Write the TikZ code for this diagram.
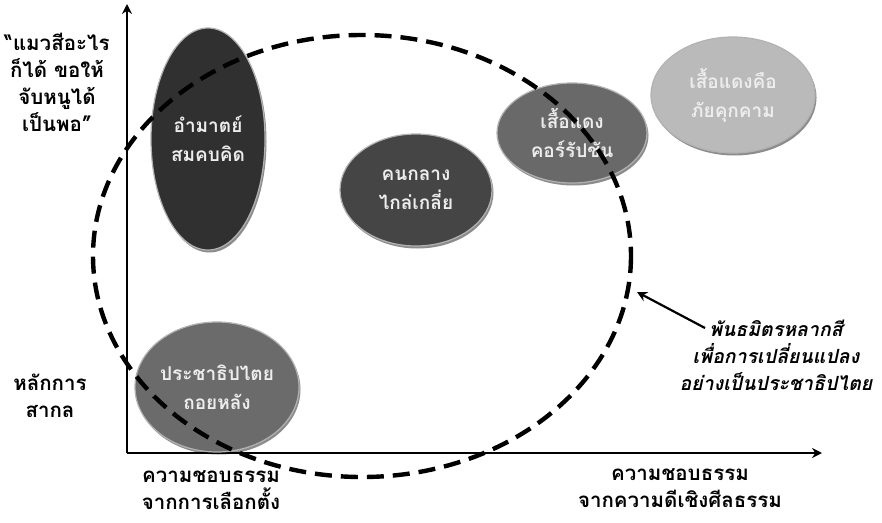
\documentclass[tikz,border=0pt]{standalone}
\usepackage{fontspec}
\newfontfamily\thai[Script=Thai]{Loma}
\usetikzlibrary{shapes.geometric,shadows,arrows.meta}
\begin{document}
\begin{tikzpicture}[x=1pt,y=-1pt,
  every node/.style={font=\thai\bfseries\fontsize{20.5}{27}\selectfont, align=center},
  bubble/.style={ellipse, inner sep=0pt, text=white!93!black, draw=white!70!black, line width=1.2pt,
    font=\thai\bfseries\fontsize{19}{29}\selectfont,
    drop shadow={shadow xshift=1.5pt, shadow yshift=-2.5pt, opacity=0.45, fill=black}},
  lbl/.style={text=black},
  axis/.style={line width=2.2pt, -{Stealth[length=10pt,width=10pt]}},
  dashring/.style={line width=4.4pt, dash pattern=on 17pt off 9pt}]
\useasboundingbox (0,0) rectangle (882,522);
\fill[white] (0,0) rectangle (882,522);
% axes
\coordinate (top) at (127,4);
\coordinate (origin) at (127,453);
\coordinate (right) at (822,453);
\draw[axis] (origin) -- (top);
\draw[axis] (origin) -- (right);
% bubbles
\node[bubble, fill=black!81, minimum width=114pt, minimum height=222pt] (amat) at (208,139) {อำมาตย์\\สมคบคิด};
\node[bubble, fill=black!73, minimum width=152pt, minimum height=112pt] (klang) at (416,190) {คนกลาง\\ไกล่เกลี่ย};
\node[bubble, fill=black!59, minimum width=150pt, minimum height=100pt] (suea) at (572,133) {เสื้อแดง\\คอร์รัปชัน};
\node[bubble, fill=black!27, minimum width=164pt, minimum height=116pt] (phai) at (733,95) {เสื้อแดงคือ\\ภัยคุกคาม};
\node[bubble, fill=black!58, minimum width=164pt, minimum height=130pt] (prachathip) at (217,387) {ประชาธิปไตย\\ถอยหลัง};
% dashed ring
\draw[dashring] (362,256) ellipse (269 and 221);
\coordinate (ringpt) at (637,292);
% labels
\node[lbl] (cat) at (57,82) {“แมวสีอะไร\\ก็ได้ ขอให้\\จับหนูได้\\เป็นพอ”};
\node[lbl] (universal) at (50,396) {หลักการ\\สากล};
\node[lbl] (election) at (211,490) {ความชอบธรรม\\จากการเลือกตั้ง};
\node[lbl] (moral) at (680,488) {ความชอบธรรม\\จากความดีเชิงศีลธรรม};
\node[lbl, font=\thai\bfseries\itshape\fontsize{19.5}{27}\selectfont] (alliance) at (776,355) {พันธมิตรหลากสี\\เพื่อการเปลี่ยนแปลง\\อย่างเป็นประชาธิปไตย};
\coordinate (tail) at (705,328);
\draw[line width=2.2pt, -{Stealth[length=10pt,width=10pt]}] (tail) -- (ringpt);
\end{tikzpicture}
\end{document}
